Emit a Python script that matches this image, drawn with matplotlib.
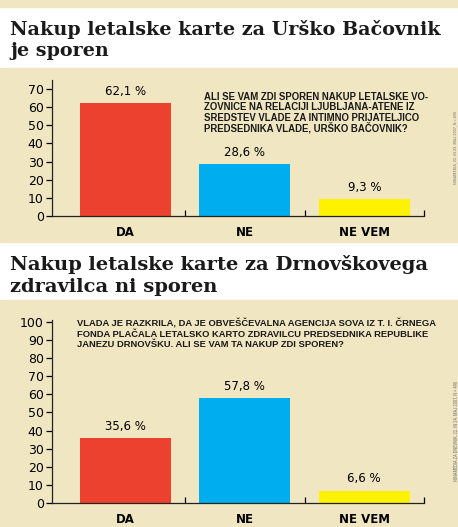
import matplotlib.pyplot as plt
from matplotlib import font_manager
from matplotlib.patches import Rectangle

# data
categories = ['DA', 'NE', 'NE VEM']
values_top = [62.1, 28.6, 9.3]
values_bottom = [35.6, 57.8, 6.6]
bar_colors = ['#EC412E', '#00AEEF', '#FFF200']

title_top = ['Nakup letalske karte za Urško Bačovnik', 'je sporen']
title_bottom = ['Nakup letalske karte za Drnovškovega', 'zdravilca ni sporen']
question_top = ['ALI SE VAM ZDI SPOREN NAKUP LETALSKE VO-',
                'ZOVNICE NA RELACIJI LJUBLJANA-ATENE IZ',
                'SREDSTEV VLADE ZA INTIMNO PRIJATELJICO',
                'PREDSEDNIKA VLADE, URŠKO BAČOVNIK?']
question_bottom = ['VLADA JE RAZKRILA, DA JE OBVEŠČEVALNA AGENCIJA SOVA IZ T. I. ČRNEGA',
                   'FONDA PLAČALA LETALSKO KARTO ZDRAVILCU PREDSEDNIKA REPUBLIKE',
                   'JANEZU DRNOVŠKU. ALI SE VAM TA NAKUP ZDI SPOREN?']
source_top = 'NINAMEDIA, 22. IN 23. MAJ 2007, N = 490'
source_bottom = 'NINAMEDIA ZA DNEVNIK, 22. IN 24. MAJ 2007, N = 490'

W, H = 458, 527
BEIGE = '#F0E6C2'

installed = {f.name for f in font_manager.fontManager.ttflist}
narrow = [n for n in ['Liberation Sans Narrow', 'Roboto Condensed', 'Open Sans Condensed']
          if n in installed]
NARROW = narrow[:1] + ['DejaVu Sans']

fig = plt.figure(figsize=(W / 100, H / 100), dpi=100)
fig.patch.set_facecolor('white')
renderer = fig.canvas.get_renderer()


def fx(px):
    return px / W


def fy(py):
    return 1 - py / H


def band(top, bottom):
    fig.patches.append(Rectangle((0, fy(bottom)), 1, fy(top) - fy(bottom),
                                 transform=fig.transFigure, color=BEIGE, zorder=-10))


band(0, 7)
band(68, 242)
band(300, 527)


def fit_size(lines, length_px, **kw):
    # font size at which the widest line is length_px long
    probe = [fig.text(0, 0, s, fontsize=10, **kw) for s in lines]
    widest = max(t.get_window_extent(renderer).width for t in probe)
    for t in probe:
        t.remove()
    return 10 * length_px / widest


def block(lines, x0, y_first, step, width_px, **kw):
    size = fit_size(lines, width_px, **kw)
    for i, s in enumerate(lines):
        fig.text(fx(x0), fy(y_first + i * step), s, fontsize=size, ha='left',
                 va='baseline', **kw)


def side_note(s, x, y, length_px):
    size = fit_size([s], length_px, family=NARROW)
    fig.text(fx(x), fy(y), s, fontsize=size, family=NARROW, color='#7a7a7a',
             rotation=90, ha='center', va='center')


def panel(values, ymax, ticks, y0, ytop):
    ax = fig.add_axes([fx(52), fy(y0), fx(424) - fx(52), fy(ytop) - fy(y0)])
    ax.set_facecolor('none')
    x = range(len(categories))
    ax.bar(x, values, width=0.76, color=bar_colors)
    for xi, v in zip(x, values):
        ax.annotate(f'{v:.1f} %'.replace('.', ','), (xi, v), xytext=(0, 4),
                    textcoords='offset points', ha='center', va='bottom', fontsize=8.5)
    ax.set_xlim(-0.615, 2.5)
    ax.set_ylim(0, ymax)
    for s in ['top', 'right']:
        ax.spines[s].set_visible(False)
    for s in ['left', 'bottom']:
        ax.spines[s].set_color('#222222')
        ax.spines[s].set_linewidth(0.9)
    ax.set_yticks(ticks)
    ax.tick_params(axis='y', length=4, width=0.9, labelsize=9, pad=2)
    ax.set_xticks([0.5, 1.5, 2.5])
    ax.set_xticklabels([])
    ax.tick_params(axis='x', which='major', direction='in', length=4, width=0.9)
    ax.set_xticks(list(x), minor=True)
    ax.set_xticklabels(categories, minor=True, fontweight='bold', fontsize=8.5)
    ax.tick_params(axis='x', which='minor', length=0, pad=7)
    return ax


panel(values_top, 75, range(0, 71, 10), 216, 80)
panel(values_bottom, 101, range(0, 101, 10), 503, 320)

qkw = dict(fontweight='bold', family=['Liberation Sans', 'DejaVu Sans'], color='#1a1a1a')
block(question_top, 204, 99.5, 10.7, 224, **qkw)
block(question_bottom, 77, 327, 10.2, 359, **qkw)

side_note(source_top, 455, 147, 72)
side_note(source_bottom, 456, 431, 100)

tkw = dict(fontweight='bold', family='DejaVu Serif', color='#1a1a1a')
block(title_top, 10, 35, 21.5, 430, **tkw)
block(title_bottom, 10, 270, 22, 420, **tkw)

fig.savefig('out.png', dpi=100)
